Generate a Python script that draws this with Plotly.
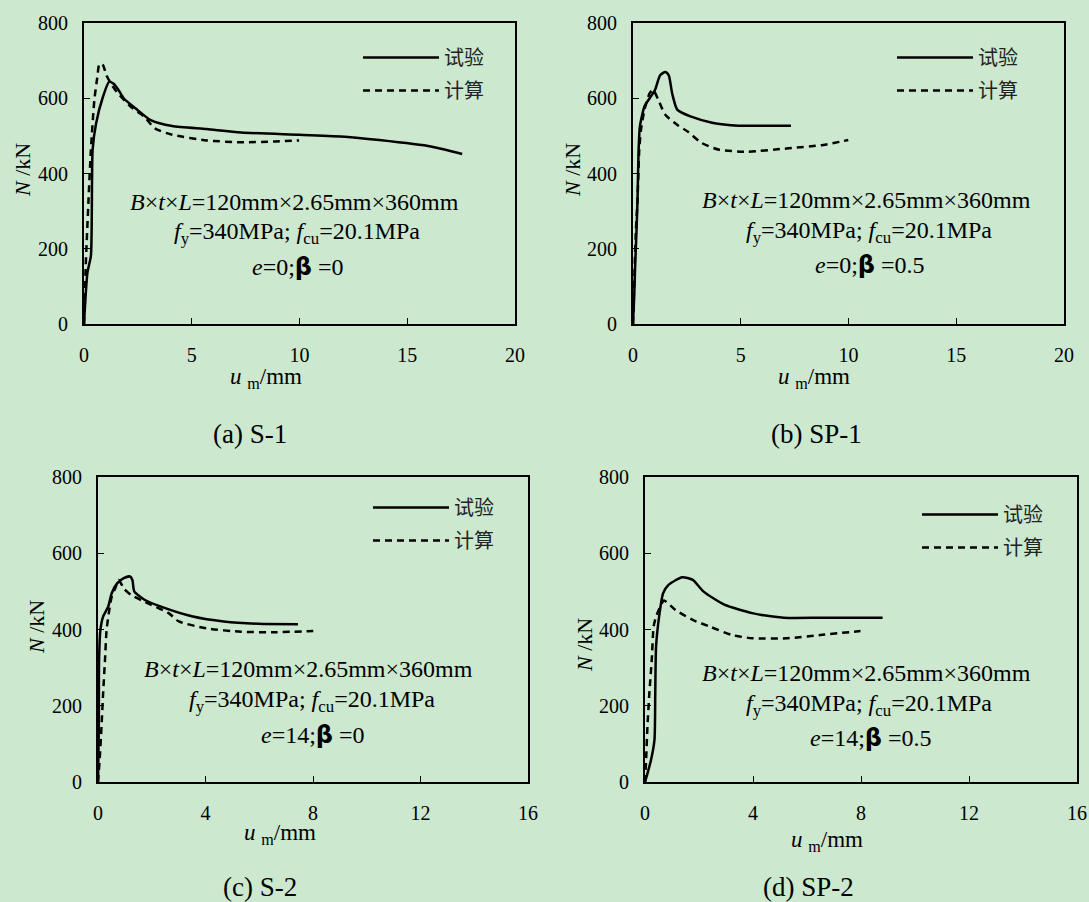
import numpy as np
import plotly.graph_objects as go

# ---------------- data ----------------
# (a) S-1
a_test_x = [0, 0.16, 0.32, 0.40, 0.56, 0.88, 1.17, 1.36, 1.60, 1.84, 2.48, 3.12, 4.09, 5.69, 7.29, 10.0, 12.1, 13.7, 16.1, 17.55]
a_test_y = [0, 137, 181, 463, 533, 604, 644, 639, 622, 600, 569, 541, 526, 518, 509, 503, 498, 489, 472, 452]
a_calc_x = [0, 0.08, 0.21, 0.32, 0.48, 0.61, 0.72, 0.88, 1.04, 1.20, 1.52, 2.16, 2.80, 3.29, 4.09, 5.69, 7.29, 8.89, 9.98]
a_calc_y = [0, 154, 331, 463, 595, 653, 692, 688, 661, 644, 617, 578, 551, 520, 503, 488, 483, 485, 488]
# (b) SP-1
b_test_x = [0, 0.05, 0.10, 0.16, 0.21, 0.26, 0.32, 0.53, 0.77, 1.02, 1.26, 1.50, 1.66, 1.82, 2.06, 2.70, 3.67, 4.90, 6.40, 7.33]
b_test_y = [0, 66, 154, 243, 331, 463, 525, 578, 600, 622, 661, 670, 661, 612, 569, 551, 535, 527, 527, 527]
b_calc_x = [0, 0.13, 0.21, 0.29, 0.37, 0.53, 0.77, 0.93, 1.18, 1.50, 2.06, 2.55, 3.19, 4.00, 5.29, 7.22, 8.83, 9.99]
b_calc_y = [0, 243, 331, 463, 516, 569, 613, 623, 595, 556, 529, 511, 481, 463, 458, 467, 476, 489]
# (c) S-2
c_test_x = [0, 0.03, 0.04, 0.09, 0.19, 0.38, 0.51, 0.71, 0.96, 1.19, 1.28, 1.35, 1.73, 2.50, 3.53, 4.68, 5.96, 7.44]
c_test_y = [0, 145, 320, 399, 434, 460, 495, 521, 535, 539, 530, 500, 478, 456, 434, 421, 415, 414]
c_calc_x = [0, 0.06, 0.13, 0.19, 0.26, 0.32, 0.42, 0.51, 0.64, 0.77, 0.96, 1.22, 1.73, 2.63, 3.01, 4.04, 5.32, 6.60, 8.01]
c_calc_y = [0, 57, 145, 232, 320, 399, 451, 486, 508, 530, 508, 491, 473, 443, 421, 403, 394, 393, 396]
# (d) SP-2
d_test_x = [0, 0.09, 0.22, 0.35, 0.38, 0.41, 0.54, 0.67, 0.87, 1.38, 1.77, 2.16, 2.94, 3.97, 5.14, 6.56, 8.80]
d_test_y = [0, 22, 57, 110, 232, 355, 443, 495, 517, 537, 530, 500, 465, 443, 431, 431, 431]
d_calc_x = [0, 0.04, 0.09, 0.16, 0.25, 0.32, 0.41, 0.54, 0.70, 1.13, 1.77, 2.42, 3.20, 3.97, 5.27, 6.56, 7.98]
d_calc_y = [0, 57, 145, 232, 320, 408, 434, 456, 476, 451, 425, 407, 386, 377, 377, 386, 396]

series_names = ["试验", "计算"]
x_ranges = [[0, 20], [0, 20], [0, 16], [0, 16]]
x_dticks = [5, 5, 4, 4]
y_range = [0, 800]
y_dtick = 200
captions = ["(a) S-1", "(b) SP-1", "(c) S-2", "(d) SP-2"]
params_e = ["0", "0", "14", "14"]
params_beta = ["0", "0.5", "0", "0.5"]

panels = [
    (a_test_x, a_test_y, a_calc_x, a_calc_y),
    (b_test_x, b_test_y, b_calc_x, b_calc_y),
    (c_test_x, c_test_y, c_calc_x, c_calc_y),
    (d_test_x, d_test_y, d_calc_x, d_calc_y),
]

# ---------------- layout (pixels) ----------------
W, H = 1089, 902
BG = "#CCE8CF"
SERIF = "Liberation Serif, Times New Roman, serif"
CJK = "Noto Sans CJK SC"

# plot boxes: left, right, top, bottom
boxes = [(84, 515, 23, 324), (633, 1064, 23, 324), (98, 528, 477, 782), (645, 1077, 477, 782)]
legend_pos = [(358, 38), (892, 38), (368, 488), (917, 495)]
ytitle_pos = [(22, 170), (572, 170), (36, 627), (584, 645)]
xtitle_pos = [(266, 378), (814, 378), (280, 834), (827, 841)]
cap_pos = [(250, 434), (816, 434), (260, 887), (808, 887)]
txt_pos = [
    [(294, 202), (297, 233), (298, 267)],
    [(866, 200), (869, 232), (870, 265)],
    [(308, 669), (312, 701), (313, 735)],
    [(866, 673), (869, 705), (871, 738)],
]

def px(x):
    return x / W

def py(y):
    return 1 - y / H

fig = go.Figure()
annotations = []
layout = dict(
    template="none",
    width=W, height=H, autosize=False,
    margin=dict(l=0, r=0, t=0, b=0, pad=0, autoexpand=False),
    paper_bgcolor=BG, plot_bgcolor=BG,
    font=dict(family=SERIF, size=19, color="black"),
    showlegend=True,
)

def add_text(x, y, text, size, angle=0, family=SERIF):
    annotations.append(dict(x=px(x), y=py(y), xref="paper", yref="paper", showarrow=False,
                            xanchor="center", yanchor="middle", text=text, textangle=angle,
                            font=dict(family=family, size=size, color="black")))

for i, (tx, ty, cx, cy) in enumerate(panels):
    k = "" if i == 0 else str(i + 1)
    xa, ya = "x" + k, "y" + k
    lg = "legend" + k
    fig.add_trace(go.Scatter(x=tx, y=ty, mode="lines", name=series_names[0],
                             line=dict(color="black", width=2.5, shape="spline", smoothing=0.6),
                             xaxis=xa, yaxis=ya, legend=lg, legendgroup=f"t{i}"))
    fig.add_trace(go.Scatter(x=cx, y=cy, mode="lines", name=series_names[1],
                             line=dict(color="black", width=2.5, dash="7px,5px", shape="spline", smoothing=0.6),
                             xaxis=xa, yaxis=ya, legend=lg, legendgroup=f"c{i}"))
    l, r, t, b = boxes[i]
    layout["xaxis" + k] = dict(
        domain=[px(l), px(r)], anchor=ya, range=x_ranges[i], dtick=x_dticks[i],
        showline=True, mirror=True, linecolor="black", linewidth=2,
        ticks="inside", ticklen=6, tickwidth=1.2, tickcolor="black",
        showgrid=False, zeroline=False, ticklabelstandoff=12, automargin=False,
        tickfont=dict(family=SERIF, size=20, color="black"),
    )
    layout["yaxis" + k] = dict(
        domain=[py(b), py(t)], anchor=xa, range=y_range, dtick=y_dtick,
        showline=True, mirror=True, linecolor="black", linewidth=2,
        ticks="inside", ticklen=6, tickwidth=1.2, tickcolor="black",
        showgrid=False, zeroline=False, ticklabelstandoff=10, automargin=False,
        tickfont=dict(family=SERIF, size=20, color="black"),
    )
    lx, ly = legend_pos[i]
    layout[lg] = dict(
        x=px(lx), y=py(ly), xanchor="left", yanchor="top",
        bgcolor="rgba(0,0,0,0)", borderwidth=0, itemwidth=76,
        tracegroupgap=4,
        font=dict(family=CJK, size=20, color="#222"),
    )
    add_text(*ytitle_pos[i], "<i>N</i> /kN", 22, angle=-90)
    add_text(*xtitle_pos[i], "<i>u</i> <sub>m</sub>/mm", 23)
    add_text(*cap_pos[i], captions[i], 27)
    lines = [
        "<i>B</i>×<i>t</i>×<i>L</i>=120mm×2.65mm×360mm",
        "<i>f</i><sub>y</sub>=340MPa; <i>f</i><sub>cu</sub>=20.1MPa",
        f"<i>e</i>={params_e[i]};<b><span style='font-family:DejaVu Sans'>β</span></b> ={params_beta[i]}",
    ]
    for (x0, y0), s in zip(txt_pos[i], lines):
        add_text(x0, y0, s, 24)

layout["annotations"] = annotations
fig.update_layout(**layout)
fig.write_html(
    "out.html",
    config={"displayModeBar": False},
    post_script="document.body.style.margin='0';document.body.style.padding='0';"
                "document.documentElement.style.background='" + BG + "';",
)
